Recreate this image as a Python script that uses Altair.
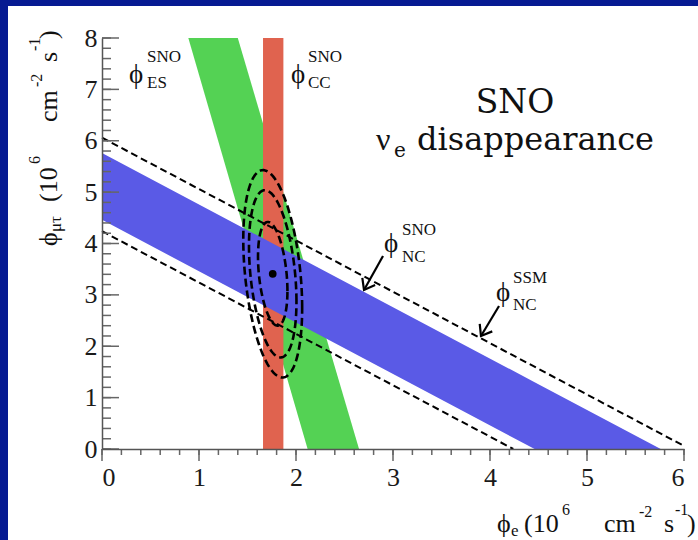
import altair as alt
import numpy as np
import pandas as pd

# ---------------- data ----------------
x_major = [0, 1, 2, 3, 4, 5, 6]
y_major = [0, 1, 2, 3, 4, 5, 6, 7, 8]
x_minor = [round(0.2 * i, 1) for i in range(31)]
y_minor = [round(0.2 * i, 1) for i in range(41)]

# SNO NC band (blue): lower / upper edge along phi_e
nc_x = [0.0, 4.46, 5.76]
nc_upper = [5.76, 1.30, 0.0]
nc_lower = [4.46, 0.0, 0.0]

# SNO ES band (green): left / right edge along phi_mutau
es_y = [0.0, 8.0]
es_left = [2.12, 0.89]
es_right = [2.65, 1.40]

# SNO CC band (red)
cc_left = [1.66]
cc_right = [1.87]
cc_bottom = [0.0]
cc_top = [8.0]

# SSM NC prediction (dashed lines)
ssm_line = ["high", "high", "low", "low"]
ssm_x = [0.0, 6.0, 0.0, 4.24]
ssm_y = [6.06, 0.06, 4.24, 0.0]

# best fit and its contours (68%, 95%, 99% CL)
fit_e = [1.76]
fit_mt = [3.41]
sigma_e = 0.10
sigma_mt = 0.665
rho = -0.33
dchi2_levels = [2.30, 5.99, 9.21]

# arrows (data coordinates): start -> tip
arrow_name = ["nc_sno", "nc_ssm"]
arrow_x0 = [2.897, 4.093]
arrow_y0 = [3.757, 2.783]
arrow_x1 = [2.701, 3.907]
arrow_y1 = [3.095, 2.200]
arrow_angle = [119, 121]

# ---------------- layout / style ----------------
PADL, PADT = 102, 38
W, H = 582, 411
NAVY = "#061a92"
GREEN = "#54d254"
RED = "#e0634f"
BLUE = "#5a5ae6"
SERIF = "Liberation Serif"
WIDE = "DejaVu Serif"
PHI = "ϕ"

xs = alt.Scale(domain=[0, 6], nice=False, zero=False)
ys = alt.Scale(domain=[0, 8], nice=False, zero=False)

one = pd.DataFrame({"k": [0]})

bg = alt.Chart(one).mark_rect(color="white").encode(
    x=alt.value(8 - PADL), x2=alt.value(698 - PADL),
    y=alt.value(6 - PADT), y2=alt.value(540 - PADT))

axis_common = dict(ticks=False, grid=False, title=None, zindex=1, format="d",
                   labelFont=SERIF, labelFontSize=26, labelColor="#1a1a1a",
                   domainColor="#555555", domainWidth=1.5)

es_df = pd.DataFrame({"y": es_y, "xl": es_left, "xr": es_right})
es = alt.Chart(es_df).mark_area(color=GREEN, orient="horizontal", opacity=1).encode(
    y=alt.Y("y:Q", scale=ys, axis=alt.Axis(values=y_major, labelPadding=5, **axis_common)),
    x=alt.X("xl:Q", scale=xs, axis=alt.Axis(values=x_major, labelPadding=15, **axis_common)),
    x2="xr:Q")

cc_df = pd.DataFrame({"x": cc_left, "x2": cc_right, "y": cc_bottom, "y2": cc_top})
cc = alt.Chart(cc_df).mark_rect(color=RED).encode(
    x=alt.X("x:Q", scale=xs), x2="x2:Q", y=alt.Y("y:Q", scale=ys), y2="y2:Q")

nc_df = pd.DataFrame({"x": nc_x, "yu": nc_upper, "yl": nc_lower})
nc = alt.Chart(nc_df).mark_area(color=BLUE, opacity=1).encode(
    x=alt.X("x:Q", scale=xs), y=alt.Y("yu:Q", scale=ys), y2="yl:Q")

ssm_df = pd.DataFrame({"line": ssm_line, "x": ssm_x, "y": ssm_y})
ssm = alt.Chart(ssm_df).mark_line(color="black", strokeDash=[7, 4], strokeWidth=2).encode(
    x=alt.X("x:Q", scale=xs), y=alt.Y("y:Q", scale=ys), detail="line:N")

# contour ellipses of the fit
cov = np.array([[sigma_e ** 2, rho * sigma_e * sigma_mt], [rho * sigma_e * sigma_mt, sigma_mt ** 2]])
L = np.linalg.cholesky(cov)
t = np.linspace(0, 2 * np.pi, 241)
rows = []
for lev in dchi2_levels:
    pts = np.sqrt(lev) * (L @ np.vstack([np.cos(t), np.sin(t)]))
    for i in range(len(t)):
        rows.append({"lev": lev, "i": i, "x": fit_e[0] + pts[0, i], "y": fit_mt[0] + pts[1, i]})
ell_df = pd.DataFrame(rows)
ell = alt.Chart(ell_df).mark_line(color="black", strokeDash=[8, 4], strokeWidth=2.6).encode(
    x=alt.X("x:Q", scale=xs), y=alt.Y("y:Q", scale=ys), detail="lev:N", order="i:Q")

fit_df = pd.DataFrame({"x": fit_e, "y": fit_mt})
dot = alt.Chart(fit_df).mark_circle(color="black", size=60, opacity=1).encode(
    x=alt.X("x:Q", scale=xs), y=alt.Y("y:Q", scale=ys))

# ticks: x outward (down), y inward (right)
def xt(vals, length):
    return alt.Chart(pd.DataFrame({"v": vals})).mark_rule(color="#666666", strokeWidth=1.5).encode(
        x=alt.X("v:Q", scale=xs), y=alt.value(H), y2=alt.value(H + length))

def yt(vals, length):
    return alt.Chart(pd.DataFrame({"v": vals})).mark_rule(color="#666666", strokeWidth=1.5).encode(
        y=alt.Y("v:Q", scale=ys), x=alt.value(0), x2=alt.value(length))

ticks = [xt(x_minor, 6), xt(x_major, 12), yt(y_minor, 9), yt(y_major, 17)]

arr_df = pd.DataFrame({"name": arrow_name, "x0": arrow_x0, "y0": arrow_y0,
                       "x1": arrow_x1, "y1": arrow_y1, "ang": arrow_angle})
shaft = alt.Chart(arr_df).mark_rule(color="black", strokeWidth=2.2).encode(
    x=alt.X("x0:Q", scale=xs), y=alt.Y("y0:Q", scale=ys), x2="x1:Q", y2="y1:Q")
heads = alt.Chart(arr_df).mark_point(shape="M -1 -0.75 L 0 0 L -1 0.75", filled=False, color="black",
                                     strokeWidth=2.2, size=380, opacity=1).encode(
    x=alt.X("x1:Q", scale=xs), y=alt.Y("y1:Q", scale=ys), angle=alt.Angle("ang:Q", scale=None))


def T(text, x, y, size, font=SERIF, angle=0, align="left", color="#111111"):
    return alt.Chart(one).mark_text(text=text, font=font, fontSize=size, angle=angle, align=align,
                                    baseline="alphabetic", color=color).encode(
        x=alt.value(x - PADL), y=alt.value(y - PADT))

texts = [
    # phi_ES^SNO
    T(PHI, 129, 83, 27), T("SNO", 147, 62, 17), T("ES", 147, 88, 17),
    # phi_CC^SNO
    T(PHI, 291, 83, 27), T("SNO", 308, 62, 17), T("CC", 308, 88, 17),
    # phi_NC^SNO
    T(PHI, 384, 252, 27), T("SNO", 402, 235, 17), T("NC", 402, 262, 17),
    # phi_NC^SSM
    T(PHI, 496, 301, 27), T("SSM", 513, 283, 17), T("NC", 513, 310, 17),
    # big label
    T("SNO", 515, 113, 33, WIDE, align="center"),
    T("ν", 376, 150, 32, SERIF), T("e", 394, 157, 20, WIDE), T("disappearance", 417, 150, 32, WIDE),
    # x title
    T(PHI, 497, 532, 26), T("e", 511, 536, 17), T("(10", 524, 532, 26), T("6", 562, 515, 16),
    T("cm", 604, 532, 26), T("-2", 639, 517, 16), T("s", 664, 532, 26), T("-1", 675, 515, 16),
    T(")", 687, 532, 26),
    # y title (rotated)
    T(PHI, 57, 246, 26, angle=270), T("μτ", 61, 232, 17, angle=270), T("(10", 57, 202, 26, angle=270),
    T("6", 40, 164, 16, angle=270), T("cm", 57, 122, 26, angle=270), T("-2", 42, 87, 16, angle=270),
    T("s", 57, 62, 26, angle=270), T("-1", 40, 51, 16, angle=270), T(")", 57, 39, 26, angle=270),
]

chart = alt.layer(bg, es, cc, nc, ssm, ell, dot, *ticks, shaft, heads, *texts).properties(
    width=W, height=H,
    autosize=alt.AutoSizeParams(type="none"),
    padding={"left": PADL, "top": PADT, "right": 698 - PADL - W, "bottom": 540 - PADT - H},
    background=NAVY,
).configure_view(stroke="#9a9a9a", strokeWidth=1.5, fill="white")

chart.save("out.html", embed_options={"renderer": "svg", "actions": False})
